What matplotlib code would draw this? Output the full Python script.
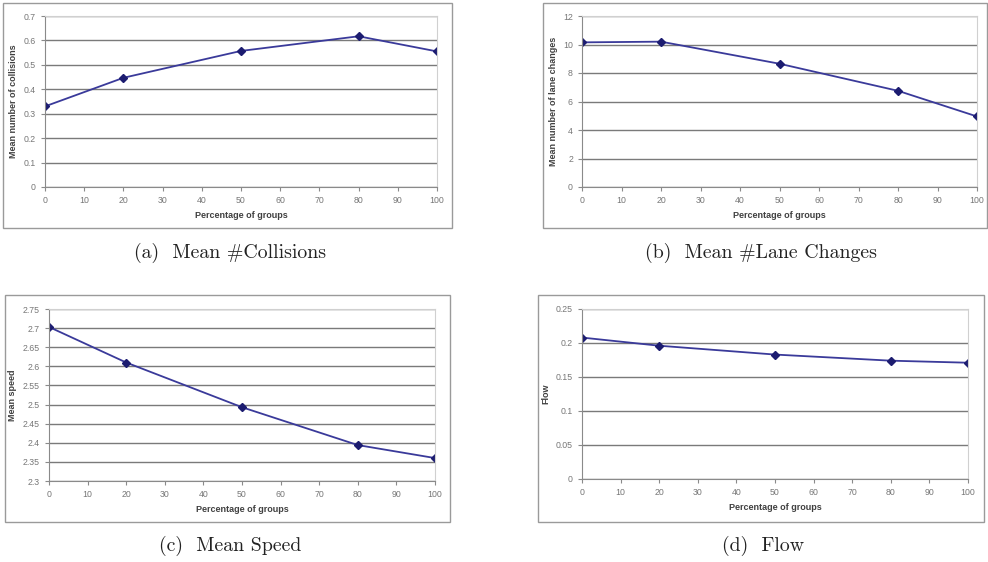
#making the 4 panel figure with matplotlib
import matplotlib.pyplot as plt
from matplotlib.patches import Rectangle

# data
pct_groups = [0, 20, 50, 80, 100]
collisions = [0.33, 0.447, 0.557, 0.617, 0.555]
lane_changes = [10.15, 10.2, 8.65, 6.75, 4.95]
speed = [2.703, 2.61, 2.493, 2.394, 2.36]
flow = [0.208, 0.196, 0.183, 0.174, 0.171]

x_ticks = list(range(0, 101, 10))
W, H = 988, 562

fig = plt.figure(figsize=(9.88, 5.62), dpi=100)
plt.rcParams['font.family'] = 'Liberation Sans'


def px_axes(x0, y0, x1, y1):
    # pixel box (top-left origin) to figure coords
    return fig.add_axes([x0 / W, 1 - y1 / H, (x1 - x0) / W, (y1 - y0) / H])


def frame(x0, y0, x1, y1):
    fig.patches.append(Rectangle((x0 / W, 1 - y1 / H), (x1 - x0) / W, (y1 - y0) / H,
                                 transform=fig.transFigure, fill=False,
                                 edgecolor='#9a9a9a', linewidth=1.0))


def make_panel(box, outer, yvals, ylim, ystep, ylabel, yfmt, caption, cap_xy):
    frame(*outer)
    ax = px_axes(*box)
    ax.plot(pct_groups, yvals, color='#3a3a9a', linewidth=1.3, marker='D',
            markersize=4, markerfacecolor='#1c1c70', markeredgecolor='#1c1c70')
    ax.set_xlim(0, 100)
    ax.set_ylim(*ylim)
    ax.set_xticks(x_ticks)
    n = int(round((ylim[1] - ylim[0]) / ystep))
    yt = [ylim[0] + i * ystep for i in range(n + 1)]
    ax.set_yticks(yt)
    ax.set_yticklabels([yfmt(v) for v in yt])
    ax.yaxis.grid(True, color='#7a7a7a', linewidth=1.0)
    ax.set_axisbelow(True)
    ax.tick_params(labelsize=6.3, colors='#8a8a8a', length=3, width=0.8,
                   labelcolor='#777777')
    for s in ['left', 'bottom']:
        ax.spines[s].set_color('#8a8a8a')
    for s in ['top', 'right']:
        ax.spines[s].set_color('#d0d0d0')
    ax.set_xlabel('Percentage of groups', fontsize=6.5, fontweight='bold',
                  color='#404040', labelpad=4)
    ax.set_ylabel(ylabel, fontsize=6.5, fontweight='bold', color='#404040',
                  labelpad=4)
    fig.text(cap_xy[0] / W, 1 - cap_xy[1] / H, caption, ha='center', va='center',
             fontsize=14.3, family=['cmr10', 'DejaVu Serif'], color='#222222')
    return ax


def fmt_g(v):
    return ('%.2f' % v).rstrip('0').rstrip('.') if v != 0 else '0'


make_panel((45, 16, 437, 187), (3, 3, 452, 228), collisions, (0, 0.7), 0.1,
           'Mean number of collisions', fmt_g, '(a)  Mean #Collisions', (230, 253))
make_panel((582, 16, 977, 187), (543, 3, 987, 228), lane_changes, (0, 12), 2,
           'Mean number of lane changes', fmt_g, '(b)  Mean #Lane Changes', (761, 253))
make_panel((49, 309, 435, 481), (5, 295, 450, 522), speed, (2.3, 2.75), 0.05,
           'Mean speed', fmt_g, '(c)  Mean Speed', (230, 546))
make_panel((582, 309, 968, 479), (538, 295, 984, 522), flow, (0, 0.25), 0.05,
           'Flow', fmt_g, '(d)  Flow', (763, 546))

fig.savefig('out.png', dpi=100)
